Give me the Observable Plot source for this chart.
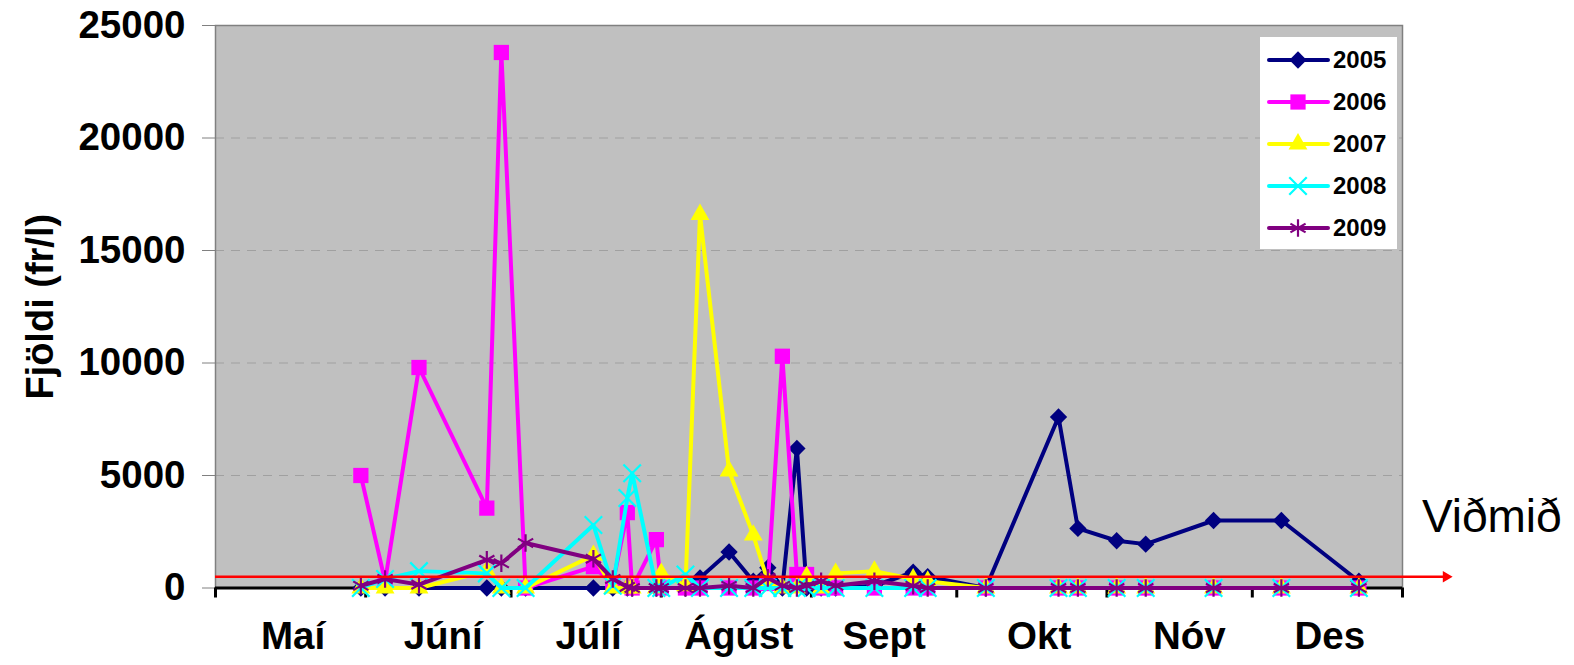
<!DOCTYPE html>
<html>
<head>
<meta charset="utf-8">
<script src="https://cdn.jsdelivr.net/npm/d3@7"></script>
<script src="https://cdn.jsdelivr.net/npm/@observablehq/plot@0.6"></script>
<style>
html, body { margin: 0; padding: 0; background: #ffffff; }
#wrap { position: relative; width: 1574px; height: 665px; font-family: "Liberation Sans", Arial, sans-serif; }
#legend { position: absolute; left: 1260px; top: 37px; width: 137px; height: 212px; background: #ffffff; }
</style>
</head>
<body>
<div id="wrap"><div id="chart"></div><div id="legend"></div></div>
<script>
// ---------- DATA ----------
const sampleDates = ["05-31","06-05","06-12","06-26","06-29","07-04","07-18","07-22","07-25","07-26",
  "07-31","08-01","08-06","08-09","08-15","08-20","08-23","08-26","08-29","08-31",
  "09-03","09-06","09-14","09-22","09-25","10-07","10-22","10-26","11-03","11-09",
  "11-23","12-07","12-23"];
const years = ["2005", "2006", "2007", "2008", "2009"];
const y2005 = [0,0,0,0,0,0,0,0,0,0, 0,0,0,450,1600,300,900,0,6200,0, 0,0,100,700,500,0,7600,2650,2100,1950, 3000,3000,300];
const y2006 = [5000,300,9800,3550,23800,0,950,200,3350,0, 2150,0,0,0,0,0,200,10300,600,600, 0,0,0,0,0,0,0,0,0,0, 0,0,0];
const y2007 = [0,0,0,750,0,0,1450,0,0,0, 0,650,100,16600,5200,2350,300,0,0,500, 0,650,750,400,300,0,0,0,0,0, 0,0,0];
const y2008 = [0,400,750,650,0,0,2800,100,4000,5100, 0,0,600,0,0,0,0,0,0,0, 0,0,0,0,0,0,0,0,0,0, 0,0,0];
const y2009 = [100,400,150,1250,1100,2000,1300,400,50,0, 0,0,0,0,100,0,450,100,0,100, 300,100,300,100,0,0,0,0,0,0, 0,0,0];
const seriesValues = [y2005, y2006, y2007, y2008, y2009];
const monthLabels = ["Maí","Júní","Júlí","Ágúst","Sept","Okt","Nóv","Des"];
const monthStartsStr = ["2001-05-01","2001-06-01","2001-07-01","2001-08-01","2001-09-01","2001-10-01","2001-11-01","2001-12-01","2002-01-01"];
const monthLabelDatesStr = ["2001-05-17","2001-06-17","2001-07-17","2001-08-17","2001-09-16","2001-10-18","2001-11-18","2001-12-17"];
const yTicks = [0, 5000, 10000, 15000, 20000, 25000];
const gridValues = [5000, 10000, 15000, 20000];
const referenceValue = 500;        // "Viðmið"
const referenceLabel = "Viðmið";
const yTitle = "Fjöldi (fr/l)";

// ---------- STYLES ----------
const seriesColors = ["#000080", "#ff00ff", "#ffff00", "#00ffff", "#800080"];
const seriesSymbols = ["diamond2", "square", "triangle", "times", "asterisk"];
const seriesR = [7.8, 8.6, 7.0, 8.0, 8.3];
const strokeSymbols = new Set(["times", "asterisk"]);

const parse = s => new Date(s + "T00:00:00Z");
const toDate = md => parse("2001-" + md);
const monthStarts = monthStartsStr.map(parse);
const monthLabelDates = monthLabelDatesStr.map(parse);
const refStart = parse("2001-05-01");
const refEnd = parse("2002-01-10");
const refTextDate = parse("2002-01-05");

const tables = years.map((yr, k) =>
  sampleDates.map((d, i) => ({ date: toDate(d), value: seriesValues[k][i], year: yr })));

const font = '"Liberation Sans", Arial, sans-serif';

const seriesMarks = tables.flatMap((t, k) => {
  const sym = seriesSymbols[k];
  const isStroke = strokeSymbols.has(sym);
  return [
    Plot.line(t, { x: "date", y: "value", stroke: seriesColors[k], strokeWidth: 4, strokeLinejoin: "round", strokeLinecap: "round" }),
    Plot.dot(t, {
      x: "date", y: "value", symbol: () => sym, r: seriesR[k],
      fill: isStroke ? "none" : seriesColors[k],
      stroke: isStroke ? seriesColors[k] : "none",
      strokeWidth: isStroke ? 2.2 : 0
    })
  ];
});

const chart = Plot.plot({
  width: 1574,
  height: 665,
  marginLeft: 215,
  marginRight: 172,
  marginTop: 25,
  marginBottom: 77.5,
  style: { fontFamily: font, background: "transparent", overflow: "visible", color: "#000" },
  x: { type: "utc", domain: [monthStarts[0], monthStarts[monthStarts.length - 1]] },
  y: { domain: [0, 25000] },
  marks: [
    Plot.frame({ fill: "#c0c0c0" }),
    Plot.ruleY(gridValues, { stroke: "#a0a0a0", strokeWidth: 1.2, strokeDasharray: "9,7" }),
    Plot.frame({ stroke: "#808080", strokeWidth: 1.5 }),
    Plot.axisY({ ticks: yTicks, tickSize: 13, tickFormat: () => "", color: "#808080", label: null }),
    Plot.axisY({ ticks: yTicks, tickSize: 0, tickPadding: 30, tickFormat: d => String(d),
      fontSize: 38.5, fontWeight: "bold", color: "#000", label: null }),
    Plot.axisX({ ticks: monthStarts, tickSize: 10, tickFormat: () => "", color: "#000", strokeWidth: 3, label: null }),
    Plot.axisX({ ticks: monthLabelDates, tickSize: 0, tickPadding: 34,
      tickFormat: d => monthLabels[monthLabelDates.findIndex(t => +t === +d)],
      fontSize: 38.5, fontWeight: "bold", color: "#000", label: null }),
    Plot.ruleY([0], { stroke: "#000", strokeWidth: 3 }),
    ...seriesMarks,
    Plot.ruleY([referenceValue], { x1: refStart, x2: refEnd, stroke: "#ff0000", strokeWidth: 2.5, clip: false }),
    Plot.dot([referenceValue], { x: () => refEnd, y: d => d, symbol: "triangle", r: 4.2, rotate: 90, fill: "#ff0000", stroke: "none" }),
    Plot.text([referenceLabel], { x: () => refTextDate, y: () => 3150, text: d => d, textAnchor: "start",
      lineAnchor: "middle", fontSize: 46, fill: "#000" }),
    Plot.text([yTitle], { frameAnchor: "left", dx: -175, rotate: -90, text: d => d, textAnchor: "middle",
      lineAnchor: "middle", fontSize: 38, fontWeight: "bold", fill: "#000" })
  ]
});
document.getElementById("chart").appendChild(chart);

// ---------- LEGEND ----------
const symMap = { diamond2: d3.symbolDiamond2, square: d3.symbolSquare, triangle: d3.symbolTriangle, times: d3.symbolTimes, asterisk: d3.symbolAsterisk };
const lg = d3.select("#legend").append("svg").attr("width", 137).attr("height", 212)
  .style("font-family", font);
years.forEach((yr, k) => {
  const g = lg.append("g").attr("transform", `translate(0, ${23 + k * 42})`);
  g.append("line").attr("x1", 9).attr("x2", 68).attr("y1", 0).attr("y2", 0)
    .attr("stroke", seriesColors[k]).attr("stroke-width", 4).attr("stroke-linecap", "round");
  const sym = seriesSymbols[k];
  const isStroke = strokeSymbols.has(sym);
  g.append("path").attr("transform", "translate(38,0)")
    .attr("d", d3.symbol(symMap[sym], Math.PI * seriesR[k] * seriesR[k])())
    .attr("fill", isStroke ? "none" : seriesColors[k])
    .attr("stroke", isStroke ? seriesColors[k] : "none")
    .attr("stroke-width", isStroke ? 2.2 : 0);
  g.append("text").attr("x", 73).attr("y", 0).attr("dy", "0.35em")
    .attr("font-size", 24).attr("font-weight", "bold").attr("fill", "#000").text(yr);
});
</script>
</body>
</html>
